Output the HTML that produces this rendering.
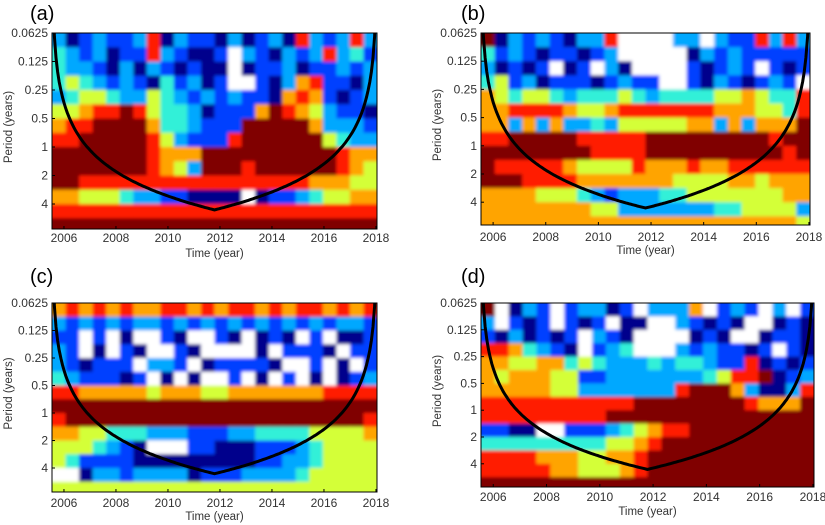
<!DOCTYPE html>
<html><head><meta charset="utf-8"><style>
html,body{margin:0;padding:0;background:#fff;}
svg{display:block;font-family:"Liberation Sans",Arial,sans-serif;}
</style></head><body>
<svg id="fig" width="825" height="525" viewBox="0 0 825 525">
<defs><filter id="soft" x="-5%" y="-5%" width="110%" height="110%"><feGaussianBlur stdDeviation="1.6"/></filter></defs>
</svg>
<script>
// colour index: 0 white,1 navy,2 blue,3 sky,4 cyan,5 yellow-green,6 orange,7 red,8 dark red
const palette = ["#ffffff","#00008c","#0040ff","#00a8ff","#30f0d8","#d4ff38","#ffa400","#ff1e00","#800000"];
const xTicks = [2006,2008,2010,2012,2014,2016,2018];
const yTickLabels = ["0.0625","0.125","0.25","0.5","1","2","4"];
const yTickValues = [0.0625,0.125,0.25,0.5,1,2,4];
const timeStart = 2005.54, timeEnd = 2018.04;
const coiVertexA = 2011.8;
const gridA = [
"312322371322131231732373",
"432312273211203213237342",
"433213132121101223122323",
"454323214231200213672213",
"345543354323232216762123",
"556778754431222687653221",
"677888864432228888863332",
"778888875322278888885433",
"888888876668888888888766",
"888888876538887888888765",
"887777777777777777766655",
"665554332211110122345566",
"777777777777777777777777",
"888888888888888888888888"];
const gridB = [
"813232133700003303227373",
"423212212300000132322222",
"312120120310000212320212",
"452312221232200213212320",
"654554344454344445565447",
"667777655677777776665547",
"663636334355555663636668",
"778888877777888888888788",
"888888887777888888888878",
"877777655557666766777777",
"888777766666665555665666",
"666655543233344555555566",
"666666665533333334455553",
"666666666666666666666665"];
const gridC = [
"676767667767677676776767",
"323232332323232323232332",
"220201002100210121020112",
"320102100210000102221022",
"321222033201222210020102",
"432221201010020102010123",
"776666656665566666667777",
"888888888888888888888888",
"788888888888888888888887",
"665544433322233444455556",
"555432100022111222345555",
"542222111111111223345555",
"001332333312223333455555",
"555555555555555555555555"];
const gridD = [
"801320233120333602320302",
"302120212011003212100121",
"213121203210000121001221",
"776432102340003232212021",
"665566454333434432271212",
"656665522333333345778123",
"666665533333337888631137",
"777777777778888888876668",
"777777777888888888888888",
"221100222345677888888888",
"444444444556788888888888",
"777766655667888888888888",
"777776655567888888888888",
"888888888888888888888888"];

const NS="http://www.w3.org/2000/svg";
const fig=document.getElementById('fig');
function mk(tag,attrs,parent){const e=document.createElementNS(NS,tag);for(const k in attrs)e.setAttribute(k,attrs[k]);(parent||fig).appendChild(e);return e;}

const panels=[
 {id:"a",grid:gridA,left:52,top:33,w:325,h:196,oct:28.5,lx:30,ly:20,tickY:242,titleY:257,ytX:12},
 {id:"b",grid:gridB,left:481,top:33,w:329,h:192,oct:28.2,lx:461,ly:20,tickY:241,titleY:254,ytX:441},
 {id:"c",grid:gridC,left:52,top:303,w:325,h:189,oct:27.5,lx:30,ly:283,tickY:507,titleY:520,ytX:12},
 {id:"d",grid:gridD,left:481,top:303,w:333,h:184,oct:26.8,lx:461,ly:283,tickY:501,titleY:515,ytX:441}
];

panels.forEach(p=>{
  const g=mk('g',{});
  
  
  const xs=t=>p.left+(t-timeStart)/(timeEnd-timeStart)*p.w;
  const ys=per=>p.top+(Math.log2(per)+4)*p.oct;
  const clip=mk('clipPath',{id:'clip'+p.id},g);
  mk('rect',{x:p.left,y:p.top,width:p.w,height:p.h},clip);
  const outer=mk('g',{'clip-path':'url(#clip'+p.id+')'},g);
  
  
  const heat=mk('g',{filter:'url(#soft)'},outer);
  
  
  const cols=p.grid[0].length;
  const dt=(timeEnd-timeStart)/cols;
  const nr=p.grid.length;
  p.grid.forEach((row,r)=>{
    const y0=ys(Math.pow(2,-4+r*0.5)), y1=(r===nr-1)?p.top+p.h+6:ys(Math.pow(2,-4+(r+1)*0.5));
    for(let c=0;c<cols;c++){
      const x0=c===0?p.left-6:xs(timeStart+c*dt), x1=c===cols-1?p.left+p.w+6:xs(timeStart+(c+1)*dt);
      const y0b=r===0?p.top-6:y0;
      const cell=mk('rect',{x:x0,y:y0b,width:x1-x0+0.6,height:y1-y0b+0.6,fill:palette[+row[c]]},heat);
      
      
    }
  });
  let d="";
  const half=(timeEnd-timeStart)/2;
  for(let i=0;i<=200;i++){
    const t=timeStart+0.03+(timeEnd-timeStart-0.06)*i/200;
    const dist=Math.min(t-timeStart,timeEnd-t);
    const per=0.74*dist*(half/(coiVertexA-timeStart));
    d+=(i?"L":"M")+xs(t).toFixed(1)+","+ys(per).toFixed(1);
  }
  const coi=mk('path',{d:d,fill:'none',stroke:'#000','stroke-width':3},outer);
  
  
  const frame=mk('rect',{x:p.left,y:p.top,width:p.w,height:p.h,fill:'none',stroke:'#000','stroke-width':1},g);
  
  
  xTicks.forEach(t=>{
    const x=xs(t);
    mk('line',{x1:x,x2:x,y1:p.top+p.h,y2:p.top+p.h-3,stroke:'#000'},g);
    const tx=mk('text',{x:x,y:p.tickY,'text-anchor':'middle','font-size':12,fill:'#333'},g);
    tx.textContent=t;
    
    
  });
  yTickValues.forEach((v,i)=>{
    const y=ys(v);
    mk('line',{x1:p.left,x2:p.left+3,y1:y,y2:y,stroke:'#000'},g);
    const tx=mk('text',{x:p.left-4,y:y+4,'text-anchor':'end','font-size':12,fill:'#333'},g);
    tx.textContent=yTickLabels[i];
    
    
  });
  const xt=mk('text',{x:p.left+p.w/2,y:p.titleY,'text-anchor':'middle','font-size':11.5,fill:'#333'},g);
  xt.textContent="Time (year)";
  
  
  const yt=mk('text',{x:0,y:0,'text-anchor':'middle','font-size':11.5,fill:'#333',transform:'translate('+(p.ytX)+','+(p.top+p.h*0.5-4)+') rotate(-90)'},g);
  yt.textContent="Period (years)";
  
  
  const lb=mk('text',{x:p.lx,y:p.ly,'font-size':20,fill:'#000'},g);
  lb.textContent="("+p.id+")";
  
  
});
</script>
</body></html>
